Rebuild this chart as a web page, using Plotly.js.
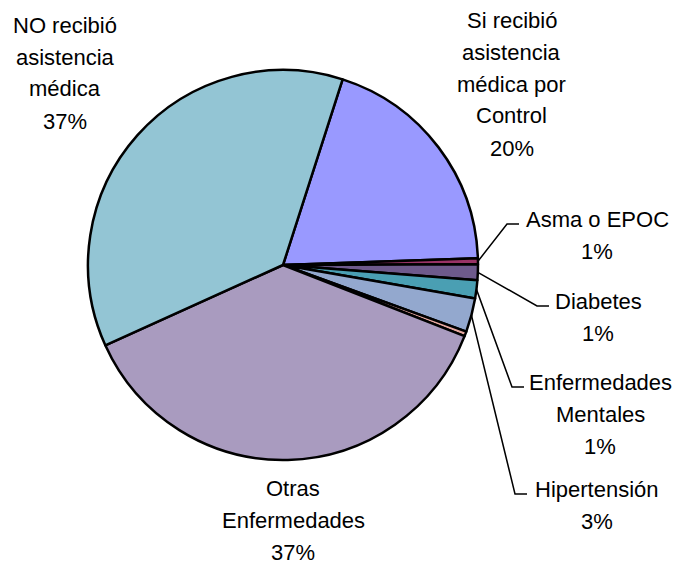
<!DOCTYPE html>
<html>
<head>
<meta charset="utf-8">
<script src="https://cdn.plot.ly/plotly-3.0.1.min.js"></script>
<style>body{margin:0}#plot{width:691px;height:564px}</style>
</head>
<body>
<div id="plot"></div>
<script>
var labels = ['Si recibió asistencia médica por Control', 'Asma o EPOC', 'Diabetes', 'Enfermedades Mentales', 'Hipertensión', '', 'Otras Enfermedades', 'NO recibió asistencia médica'];
var values = [19.5, 0.5, 1.3, 1.5, 2.8, 0.4, 37.3, 36.7];
var pctText = ['20%', '1%', '1%', '1%', '3%', '', '37%', '37%'];
var colors = ['#9999FF', '#993366', '#6E5A8C', '#4A9FB3', '#93A8CE', '#E6A8A0', '#A99BBF', '#93C5D4'];

// how each label is broken into lines on the chart
var labelLines = [
  ['Si recibió', 'asistencia', 'médica por', 'Control'],
  ['Asma o EPOC'],
  ['Diabetes'],
  ['Enfermedades', 'Mentales'],
  ['Hipertensión'],
  [],
  ['Otras', 'Enfermedades'],
  ['NO recibió', 'asistencia', 'médica']
];

var W = 691, H = 564;
var cx = 283, cy = 265, R = 195;
var rotation = 17.8;

// label placement: centre x, first baseline y, leader elbow x (null = no leader)
var labelPos = [
  [512, 27, null],
  [597, 226, 507],
  [598, 308, 537],
  [600, 389, 512],
  [597, 496, 515],
  null,
  [293, 495, null],
  [65, 32, null]
];
var lineStep = 32;

function px(x) { return x / W; }
function py(y) { return 1 - y / H; }

var total = values.reduce(function (a, b) { return a + b; }, 0);
var annotations = [];
var shapes = [];
var cum = 0;
values.forEach(function (v, i) {
  var mid = rotation + (cum + v / 2) / total * 360;
  cum += v;
  var pos = labelPos[i];
  if (!pos) return;
  var lines = labelLines[i].concat([pctText[i]]);
  lines.forEach(function (t, k) {
    annotations.push({
      text: t, showarrow: false, xref: 'paper', yref: 'paper',
      x: px(pos[0]), y: py(pos[1] + k * lineStep - 7),
      xanchor: 'center', yanchor: 'middle',
      font: {family: 'Liberation Sans, Arial, sans-serif', size: 22, color: '#000'}
    });
  });
  if (pos[2] !== null) {
    var a = mid * Math.PI / 180;
    var sx = cx + R * Math.sin(a), sy = cy - R * Math.cos(a);
    var ey = pos[1] - 2;
    shapes.push({
      type: 'path', xref: 'paper', yref: 'paper',
      path: 'M' + px(sx) + ',' + py(sy) + ' L' + px(pos[2]) + ',' + py(ey) + ' L' + px(pos[2] + 12) + ',' + py(ey),
      line: {color: '#000', width: 1.5}
    });
  }
});

var data = [{
  type: 'pie',
  labels: labels,
  values: values,
  sort: false,
  direction: 'clockwise',
  rotation: rotation,
  textinfo: 'none',
  hoverinfo: 'label+percent',
  marker: {colors: colors, line: {color: '#000', width: 2.5}},
  domain: {x: [px(cx - R), px(cx + R)], y: [py(cy + R), py(cy - R)]}
}];

var layout = {
  width: W, height: H,
  margin: {l: 0, r: 0, t: 0, b: 0},
  showlegend: false,
  paper_bgcolor: '#fff',
  annotations: annotations,
  shapes: shapes
};

Plotly.newPlot('plot', data, layout, {displayModeBar: false});
</script>
</body>
</html>
